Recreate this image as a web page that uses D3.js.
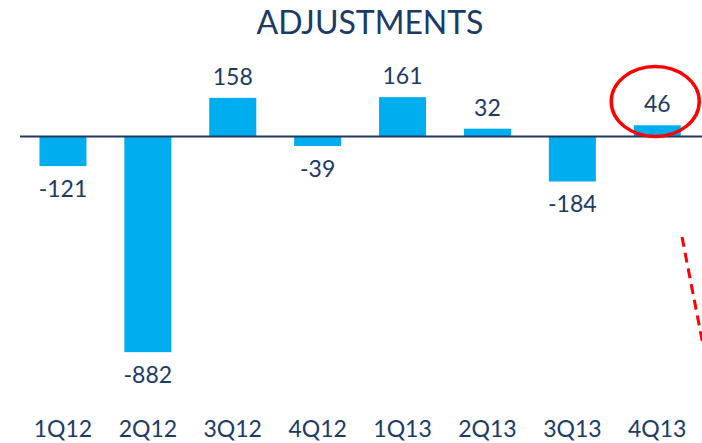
<!DOCTYPE html>
<html>
<head>
<meta charset="utf-8">
<script src="https://cdn.jsdelivr.net/npm/d3@7"></script>
<style>
  body { margin: 0; background: #fff; }
  text { font-family: Lato, "Open Sans", sans-serif; fill: #1b3a66; }
</style>
</head>
<body>
<script>
// chart size
const SCREEN = { width: 702, height: 443, zeroY: 136.5, left: 20.5, right: 699.7 };

const quarters = ['1Q12', '2Q12', '3Q12', '4Q12', '1Q13', '2Q13', '3Q13', '4Q13'];
const adjustments = [-121, -882, 158, -39, 161, 32, -184, 46];
const chartTitle = 'ADJUSTMENTS';
const highlighted = '4Q13';

const data = quarters.map((q, i) => ({ quarter: q, value: adjustments[i] }));

const svg = d3.select('body').append('svg')
    .attr('width', SCREEN.width)
    .attr('height', SCREEN.height);

const xScale = d3.scaleBand()
    .domain(quarters)
    .range([SCREEN.left, SCREEN.right])
    .paddingInner(0.446)
    .paddingOuter(0.223);

// ~0.2445 px per unit, zero at the baseline
const yScale = d3.scaleLinear()
    .domain([-900, 200])
    .range([SCREEN.zeroY + 900 * 0.2445, SCREEN.zeroY - 200 * 0.2445]);

// title
svg.append('text')
    .attr('x', 370)
    .attr('y', 34)
    .attr('text-anchor', 'middle')
    .style('font-size', '32px')
    .text(chartTitle);

// bars
svg.selectAll('rect.bar')
    .data(data)
    .enter()
    .append('rect')
    .attr('class', 'bar')
    .attr('x', d => xScale(d.quarter))
    .attr('y', d => yScale(Math.max(0, d.value)))
    .attr('width', xScale.bandwidth())
    .attr('height', d => Math.abs(yScale(d.value) - yScale(0)))
    .attr('fill', '#00aeef');

// zero line
svg.append('line')
    .attr('x1', 20)
    .attr('x2', SCREEN.width)
    .attr('y1', yScale(0))
    .attr('y2', yScale(0))
    .attr('stroke', '#1f3864')
    .attr('stroke-width', 2);

// value labels
svg.selectAll('text.value')
    .data(data)
    .enter()
    .append('text')
    .attr('class', 'value')
    .attr('x', d => xScale(d.quarter) + xScale.bandwidth() / 2)
    .attr('y', d => d.value >= 0 ? yScale(d.value) - 13 : yScale(d.value) + 31)
    .attr('text-anchor', 'middle')
    .style('font-size', '23px')
    .text(d => d.value);

// category axis
const xAxis = d3.axisBottom(xScale).tickSize(0);
const xAxisGroup = svg.append('g')
    .attr('transform', `translate(0,437)`)
    .call(xAxis);
xAxisGroup.select('.domain').remove();
xAxisGroup.selectAll('text')
    .attr('y', 0)
    .attr('dy', 0)
    .style('font-family', 'Lato, sans-serif')
    .style('font-size', '23px')
    .attr('fill', '#1b3a66');

// red ellipse around the highlighted bar
const hx = xScale(highlighted) + xScale.bandwidth() / 2;
svg.append('ellipse')
    .attr('cx', hx - 2)
    .attr('cy', 101.5)
    .attr('rx', 44)
    .attr('ry', 35)
    .attr('fill', 'none')
    .attr('stroke', '#ff0000')
    .attr('stroke-width', 3.5);

// dashed red pointer leaving the frame
svg.append('line')
    .attr('x1', 682)
    .attr('y1', 237)
    .attr('x2', 704)
    .attr('y2', 350)
    .attr('stroke', '#ff0000')
    .attr('stroke-width', 3)
    .attr('stroke-dasharray', '10,6');
</script>
</body>
</html>
